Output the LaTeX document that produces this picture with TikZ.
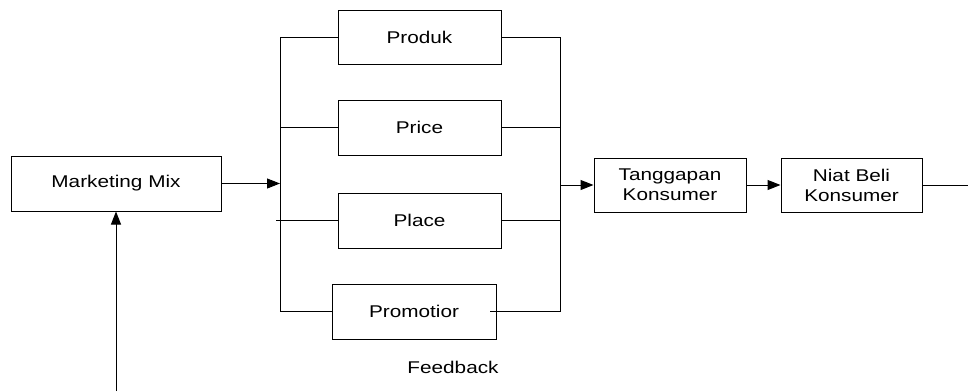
\documentclass[tikz,border=0pt]{standalone}
\usepackage{fontspec}
\setmainfont[FakeStretch=1.22]{Liberation Sans}
\usetikzlibrary{arrows.meta}
\begin{document}
\begin{tikzpicture}[x=1pt,y=-1pt,
  every node/.style={font=\fontsize{17}{20}\selectfont},
  box/.style={draw,line width=1pt,inner sep=0pt,align=center},
  ln/.style={line width=1pt},
  arr/.style={line width=1pt,-{Triangle[length=13pt,width=10pt]}}]
\useasboundingbox (0,0) rectangle (968,391);
\node[box,minimum width=210pt,minimum height=55pt] (mm) at (116,183.5) {Marketing Mix};
\node[box,minimum width=163pt,minimum height=54pt] (prod) at (419.5,37) {Produk};
\node[box,minimum width=163pt,minimum height=55pt] (price) at (419.5,127.5) {Price};
\node[box,minimum width=163pt,minimum height=55pt] (place) at (419.5,220.5) {Place};
\node[box,minimum width=164pt,minimum height=55pt] (promo) at (414,311.5) {Promotior};
\node[box,minimum width=152pt,minimum height=54pt] (tang) at (670,185) {Tanggapan\\Konsumer};
\node[box,minimum width=141pt,minimum height=54pt] (niat) at (851.5,185) {Niat Beli\\Konsumer};
\node (fb) at (453,367) {Feedback};
% bus coordinates
\coordinate (lt) at (280,37);
\coordinate (lb) at (280,311.5);
\coordinate (lin) at (280,183.5);
\coordinate (lpr) at (280,127.5);
\coordinate (lpl) at (276,220.5);
\coordinate (rt) at (560,37);
\coordinate (rb) at (560,311.5);
\coordinate (rout) at (560,185);
\coordinate (rpr) at (560,127.5);
\coordinate (rpl) at (560,220.5);
\coordinate (pin) at (490,311.5);
\coordinate (bot) at (116,391);
\coordinate (end) at (968,185);
% buses
\draw[ln] (lt) -- (lb);
\draw[ln] (rt) -- (rb);
% branches
\draw[ln] (lt) -- (prod.west);
\draw[ln] (lpr) -- (price.west);
\draw[ln] (lpl) -- (place.west);
\draw[ln] (lb) -- (promo.west);
\draw[ln] (prod.east) -- (rt);
\draw[ln] (price.east) -- (rpr);
\draw[ln] (place.east) -- (rpl);
\draw[ln] (pin) -- (rb);
% arrows
\draw[arr] (mm.east) -- (lin);
\draw[arr] (rout) -- (tang.west);
\draw[arr] (tang.east) -- (niat.west);
\draw[ln] (niat.east) -- (end);
\draw[arr] (bot) -- (mm.south);
\end{tikzpicture}
\end{document}
